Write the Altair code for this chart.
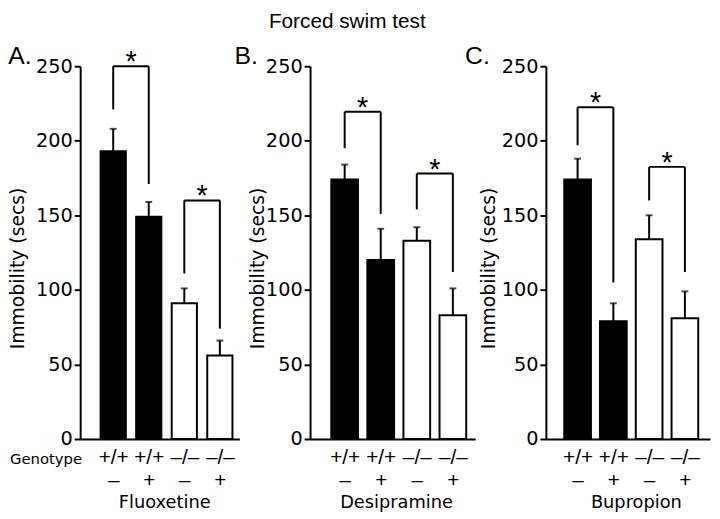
import altair as alt
import pandas as pd

SANS = "DejaVu Sans"
HELV = "Liberation Sans"

# ---------------- data ----------------
main_title = "Forced swim test"
panel_letters = ["A.", "B.", "C."]
drugs = ["Fluoxetine", "Desipramine", "Bupropion"]
genotypes = ["+/+", "+/+", "–/–", "–/–"]
treated = ["–", "+", "–", "+"]
y_ticks = [0, 50, 100, 150, 200, 250]

means_A = [193, 149, 91, 56]
sem_A = [15, 10, 10, 10]
means_B = [174, 120, 133, 83]
sem_B = [10, 21, 9, 18]
means_C = [174, 79, 134, 81]
sem_C = [14, 12, 16, 18]

# significance brackets: left bar, right bar, top, left leg end, right leg end
brackets_A = [(0, 1, 250, 221, 171), (2, 3, 160, 111, 74)]
brackets_B = [(0, 1, 219.5, 195, 151), (2, 3, 178, 154, 112)]
brackets_C = [(0, 1, 222.5, 197, 105), (2, 3, 182.5, 160, 112)]

# ---------------- layout (styles) ----------------
H = 377
layouts = [
    dict(width=161, domain=[-0.79, 3.41], bar=25.5, ytx=-63, letter_dx=-72.7, xtitle_x=85),
    dict(width=167, domain=[-0.822, 3.482], bar=27, ytx=-53, letter_dx=-76.3, xtitle_x=87),
    dict(width=166, domain=[-0.748, 3.564], bar=27, ytx=-58, letter_dx=-81.7, xtitle_x=91),
]

label_expr = "[" + ",".join(
    "['%s','%s']" % (g, t) for g, t in zip(genotypes, treated)
) + "][datum.value]"


def panel(k, means, sems, brackets):
    L = layouts[k]
    bars = pd.DataFrame({
        "idx": list(range(len(means))),
        "geno": genotypes,
        "val": means,
        "hi": [m + s for m, s in zip(means, sems)],
    })
    horiz = pd.DataFrame([{"i": b[0], "j": b[1], "top": b[2], "mid": (b[0] + b[1]) / 2} for b in brackets])
    legs = pd.DataFrame(
        [{"pos": b[0], "top": b[2], "end": b[3]} for b in brackets]
        + [{"pos": b[1], "top": b[2], "end": b[4]} for b in brackets]
    )

    xs = alt.Scale(domain=L["domain"], nice=False, zero=False)
    ys = alt.Scale(domain=[0, 250], nice=False)

    x_axis = alt.Axis(
        values=[0, 1, 2, 3], labelExpr=label_expr, ticks=False, grid=False,
        domainColor="black", domainWidth=2, labelFont=HELV, labelFontSize=21,
        labelColor="black", labelLineHeight=23, labelPadding=8, labelBaseline="top",
        labelFlush=False, labelOverlap=False, labelBound=False,
        title=drugs[k], titleFont=SANS, titleFontSize=18, titleFontWeight="normal",
        titleColor="black", titlePadding=3, titleX=L["xtitle_x"], titleAlign="center",
    )
    y_axis = alt.Axis(
        values=y_ticks, grid=False, domainColor="black", domainWidth=2,
        tickColor="black", tickWidth=2, tickSize=6, labelPadding=2,
        labelFont=SANS, labelFontSize=19.5, labelColor="black",
        title="Immobility (secs)", titleFont=SANS, titleFontSize=19,
        titleFontWeight="normal", titleColor="black",
        titleX=L["ytx"], titleY=204, titleBaseline="middle", titleAlign="center",
        titleAngle=270,
    )

    base = alt.Chart(bars)
    bar = base.mark_bar(size=L["bar"], stroke="black", strokeWidth=2).encode(
        x=alt.X("idx:Q", scale=xs, axis=x_axis),
        y=alt.Y("val:Q", scale=ys, axis=y_axis),
        fill=alt.Fill("geno:N", scale=alt.Scale(domain=["+/+", "–/–"], range=["black", "white"]), legend=None),
    )
    err = base.mark_rule(color="black", strokeWidth=2).encode(
        x="idx:Q", y="val:Q", y2="hi:Q"
    )
    cap = base.mark_tick(orient="horizontal", size=7, thickness=2, color="black").encode(
        x="idx:Q", y="hi:Q"
    )
    hr = alt.Chart(horiz).mark_rule(color="black", strokeWidth=2).encode(
        x="i:Q", x2="j:Q", y="top:Q"
    )
    lg = alt.Chart(legs).mark_rule(color="black", strokeWidth=2).encode(
        x="pos:Q", y="top:Q", y2="end:Q"
    )
    star = alt.Chart(horiz).mark_text(text="*", font=HELV, fontSize=29, baseline="alphabetic", dy=5, color="black").encode(
        x="mid:Q", y="top:Q"
    )
    letter = alt.Chart(pd.DataFrame({"t": [panel_letters[k]]})).mark_text(
        font=HELV, fontSize=25, align="left", baseline="alphabetic", color="black"
    ).encode(text="t:N", x=alt.value(L["letter_dx"]), y=alt.value(-2.2))
    layers = [bar, err, cap, hr, lg, star, letter]
    if k == 0:
        geno = alt.Chart(pd.DataFrame({"t": ["Genotype"]})).mark_text(
            font=SANS, fontSize=15, align="right", baseline="alphabetic", color="black"
        ).encode(text="t:N", x=alt.value(2), y=alt.value(402.5))
        layers.append(geno)

    return alt.layer(*layers).properties(width=L["width"], height=H)


chart = alt.hconcat(
    panel(0, means_A, sem_A, brackets_A),
    panel(1, means_B, sem_B, brackets_B),
    panel(2, means_C, sem_C, brackets_C),
    spacing=71.5,
    bounds="flush",
    title=alt.TitleParams(
        text=main_title, anchor="middle", font=HELV, fontSize=21,
        fontWeight="normal", color="black", dx=-12, offset=12,
    ),
).properties(
    padding={"left": 0, "top": 0, "right": 2, "bottom": 2},
    background="white",
).configure_view(stroke=None)

chart.save("out.html", embed_options={"renderer": "svg", "actions": False})
